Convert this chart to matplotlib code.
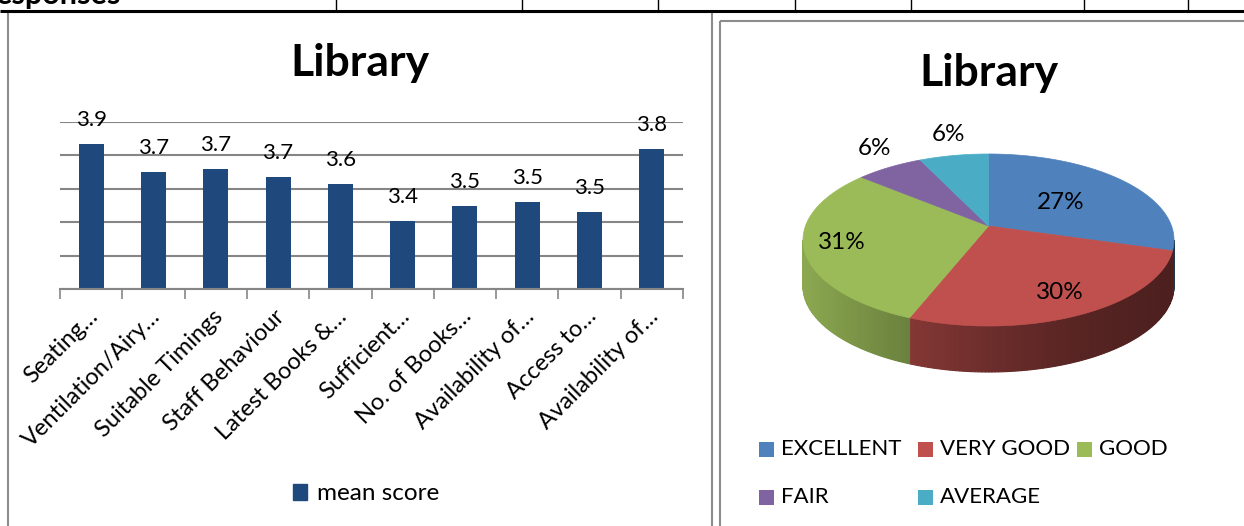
#!/usr/bin/env python3
"""Library survey: mean score bar chart and 3-D rating pie, side by side."""

import matplotlib

matplotlib.use("Agg")
import matplotlib.pyplot as plt
import matplotlib.transforms as mtransforms
import numpy as np
from matplotlib.colors import to_rgb
from matplotlib.patches import Patch, Polygon, Rectangle

plt.rcParams["font.family"] = ["Lato", "DejaVu Sans"]

W, H = 1244, 526

# --- data -----------------------------------------------------------------
bar_title = "Library"
bar_series = "mean score"
bar_categories = [
    "Seating…",
    "Ventilation/Airy…",
    "Suitable Timings",
    "Staff Behaviour",
    "Latest Books &…",
    "Sufficient…",
    "No. of Books…",
    "Availability of…",
    "Access to…",
    "Availability of…",
]
bar_values = [3.87, 3.70, 3.72, 3.67, 3.63, 3.41, 3.50, 3.52, 3.46, 3.84]

pie_title = "Library"
pie_labels = ["EXCELLENT", "VERY GOOD", "GOOD", "FAIR", "AVERAGE"]
pie_values = [27, 30, 31, 6, 6]

# --- style ----------------------------------------------------------------
BAR_COLOR = "#1F497D"
GRID_COLOR = "#868686"
FRAME_COLOR = "#8C8C8C"
PIE_COLORS = ["#4F81BD", "#C0504D", "#9BBB59", "#8064A2", "#4BACC6"]
PIE_LABEL_R = [0.52, 0.8, 0.8, 1.15, 1.15]
TABLE_COLS = [336, 522, 658, 795, 911, 1084, 1188]


def px_axes(fig, left, top, right, bottom):
    return fig.add_axes([left / W, 1 - bottom / H, (right - left) / W, (bottom - top) / H])


def side_shade(x, x_left, width):
    u = np.clip((x - x_left) / width, 0, 1)
    return 0.4 + 0.5 * (1 - u) ** 1.6


def draw_pie3d(ax, values, colors, cx, cy, a, b, depth, apex_dy):
    vals = np.asarray(values, dtype=float)
    edges = np.concatenate([[0], np.cumsum(vals) / vals.sum()]) * 360.0

    def rim(t_deg, dy=0.0):
        t = np.radians(t_deg)
        return cx + a * np.sin(t), cy - b * np.cos(t) + dy

    # side walls (front half only, t in 90..270), shaded darker to the right
    for i in range(len(vals)):
        lo, hi = max(edges[i], 90.0), min(edges[i + 1], 270.0)
        if lo >= hi:
            continue
        base = np.array(to_rgb(colors[i]))
        ts = np.linspace(lo, hi, max(int(hi - lo), 2) + 1)
        for t0, t1 in zip(ts[:-1], ts[1:]):
            x0, y0 = rim(t0)
            x1, y1 = rim(t1)
            col = np.clip(base * side_shade(0.5 * (x0 + x1), cx - a, 2 * a), 0, 1)
            poly = [(x0, y0), (x1, y1), (x1, y1 + depth), (x0, y0 + depth)]
            ax.add_patch(Polygon(poly, closed=True, facecolor=col, edgecolor=col, lw=0.8))

    # top faces
    for i in range(len(vals)):
        ts = np.linspace(edges[i], edges[i + 1], 200)
        xs, ys = rim(ts)
        pts = [(cx, cy + apex_dy)] + list(zip(xs, ys))
        ax.add_patch(Polygon(pts, closed=True, facecolor=colors[i], edgecolor=colors[i], lw=0.5))

    # percentage labels
    for i in range(len(vals)):
        mid = np.radians(0.5 * (edges[i] + edges[i + 1]))
        r = PIE_LABEL_R[i]
        x = cx + r * a * np.sin(mid)
        y = cy - 8 - r * b * np.cos(mid)
        pct = 100 * vals[i] / vals.sum()
        ax.text(x, y, f"{pct:.0f}%", ha="center", va="center", fontsize=17.5, color="black")


def main():
    fig = plt.figure(figsize=(W / 100, H / 100), dpi=100)

    # background layer in pixel coordinates
    bg = fig.add_axes([0, 0, 1, 1])
    bg.set_xlim(0, W)
    bg.set_ylim(H, 0)
    bg.axis("off")

    # document table remnant at the top (heading text is cut by the page edge)
    bg.plot([0, W], [10.5, 10.5], color="black", lw=2.2, solid_capstyle="butt")
    for x in TABLE_COLS:
        bg.plot([x, x], [0, 10], color="black", lw=1)
    bg.text(-4, 4, "esponses", fontsize=22, fontweight="bold", ha="left", va="baseline")

    # chart frames
    bg.add_patch(Rectangle((8, 11.5), 704, 530, fill=False, edgecolor=FRAME_COLOR, lw=1.5))
    bg.add_patch(Rectangle((720, 21), 540, 530, fill=False, edgecolor=FRAME_COLOR, lw=1.5))

    # --- bar chart ------------------------------------------------------------
    ax = px_axes(fig, 60, 122, 683, 289)
    ax.set_facecolor("none")
    x = np.arange(len(bar_values))
    bars = ax.bar(x, bar_values, width=0.4, color=BAR_COLOR, zorder=3)
    ax.set_xlim(-0.5, len(bar_values) - 0.5)
    ax.set_ylim(3.0, 4.0)
    ax.set_yticks(np.arange(3.0, 4.01, 0.2))
    ax.yaxis.grid(True, color=GRID_COLOR, lw=1.5)
    ax.tick_params(axis="y", length=0, labelleft=False)
    for s in ("top", "right", "left"):
        ax.spines[s].set_visible(False)
    ax.spines["bottom"].set_color(GRID_COLOR)
    ax.spines["bottom"].set_linewidth(1.5)
    ax.spines["bottom"].set_zorder(4)

    ax.set_xticks(x)
    ax.set_xticks(np.arange(-0.5, len(bar_values)), minor=True)
    ax.tick_params(axis="x", which="major", length=0, pad=12)
    ax.tick_params(axis="x", which="minor", length=7, width=1.2, color=GRID_COLOR, direction="out")
    ax.set_xticklabels(
        bar_categories, rotation=45, ha="right", va="top", rotation_mode="anchor", fontsize=17
    )
    shift = mtransforms.ScaledTranslation(-4 / 100, 0, fig.dpi_scale_trans)
    for lab in ax.get_xticklabels():
        lab.set_transform(lab.get_transform() + shift)

    for rect, v in zip(bars, bar_values):
        ax.annotate(
            f"{v:.1f}",
            (rect.get_x() + rect.get_width() / 2, v),
            xytext=(0, 10),
            textcoords="offset points",
            ha="center",
            va="bottom",
            fontsize=16,
            annotation_clip=False,
        )

    fig.text(360 / W, 1 - 63 / H, bar_title, fontsize=32, fontweight="bold", ha="center", va="center")
    fig.legend(
        handles=[Patch(color=BAR_COLOR)],
        labels=[bar_series],
        loc="center",
        bbox_to_anchor=(366 / W, 1 - 494 / H),
        frameon=False,
        fontsize=17.5,
        handlelength=0.6,
        handleheight=0.6,
        handletextpad=0.4,
    )

    # --- 3-D pie ------------------------------------------------------------
    draw_pie3d(bg, pie_values, PIE_COLORS, cx=988.5, cy=240, a=185.5, b=86, depth=46, apex_dy=-14)
    bg.text(989, 73, pie_title, fontsize=32, fontweight="bold", ha="center", va="center")

    for i, name in enumerate(pie_labels):
        row, col = divmod(i, 3)
        lx = 759 + col * 159
        ly = 449 + row * 48
        bg.add_patch(Rectangle((lx, ly - 7.5), 15, 15, facecolor=PIE_COLORS[i], edgecolor="none"))
        bg.text(lx + 22, ly, name, fontsize=16, ha="left", va="center")

    fig.savefig("out.png", dpi=100)
    plt.close(fig)


if __name__ == "__main__":
    main()
